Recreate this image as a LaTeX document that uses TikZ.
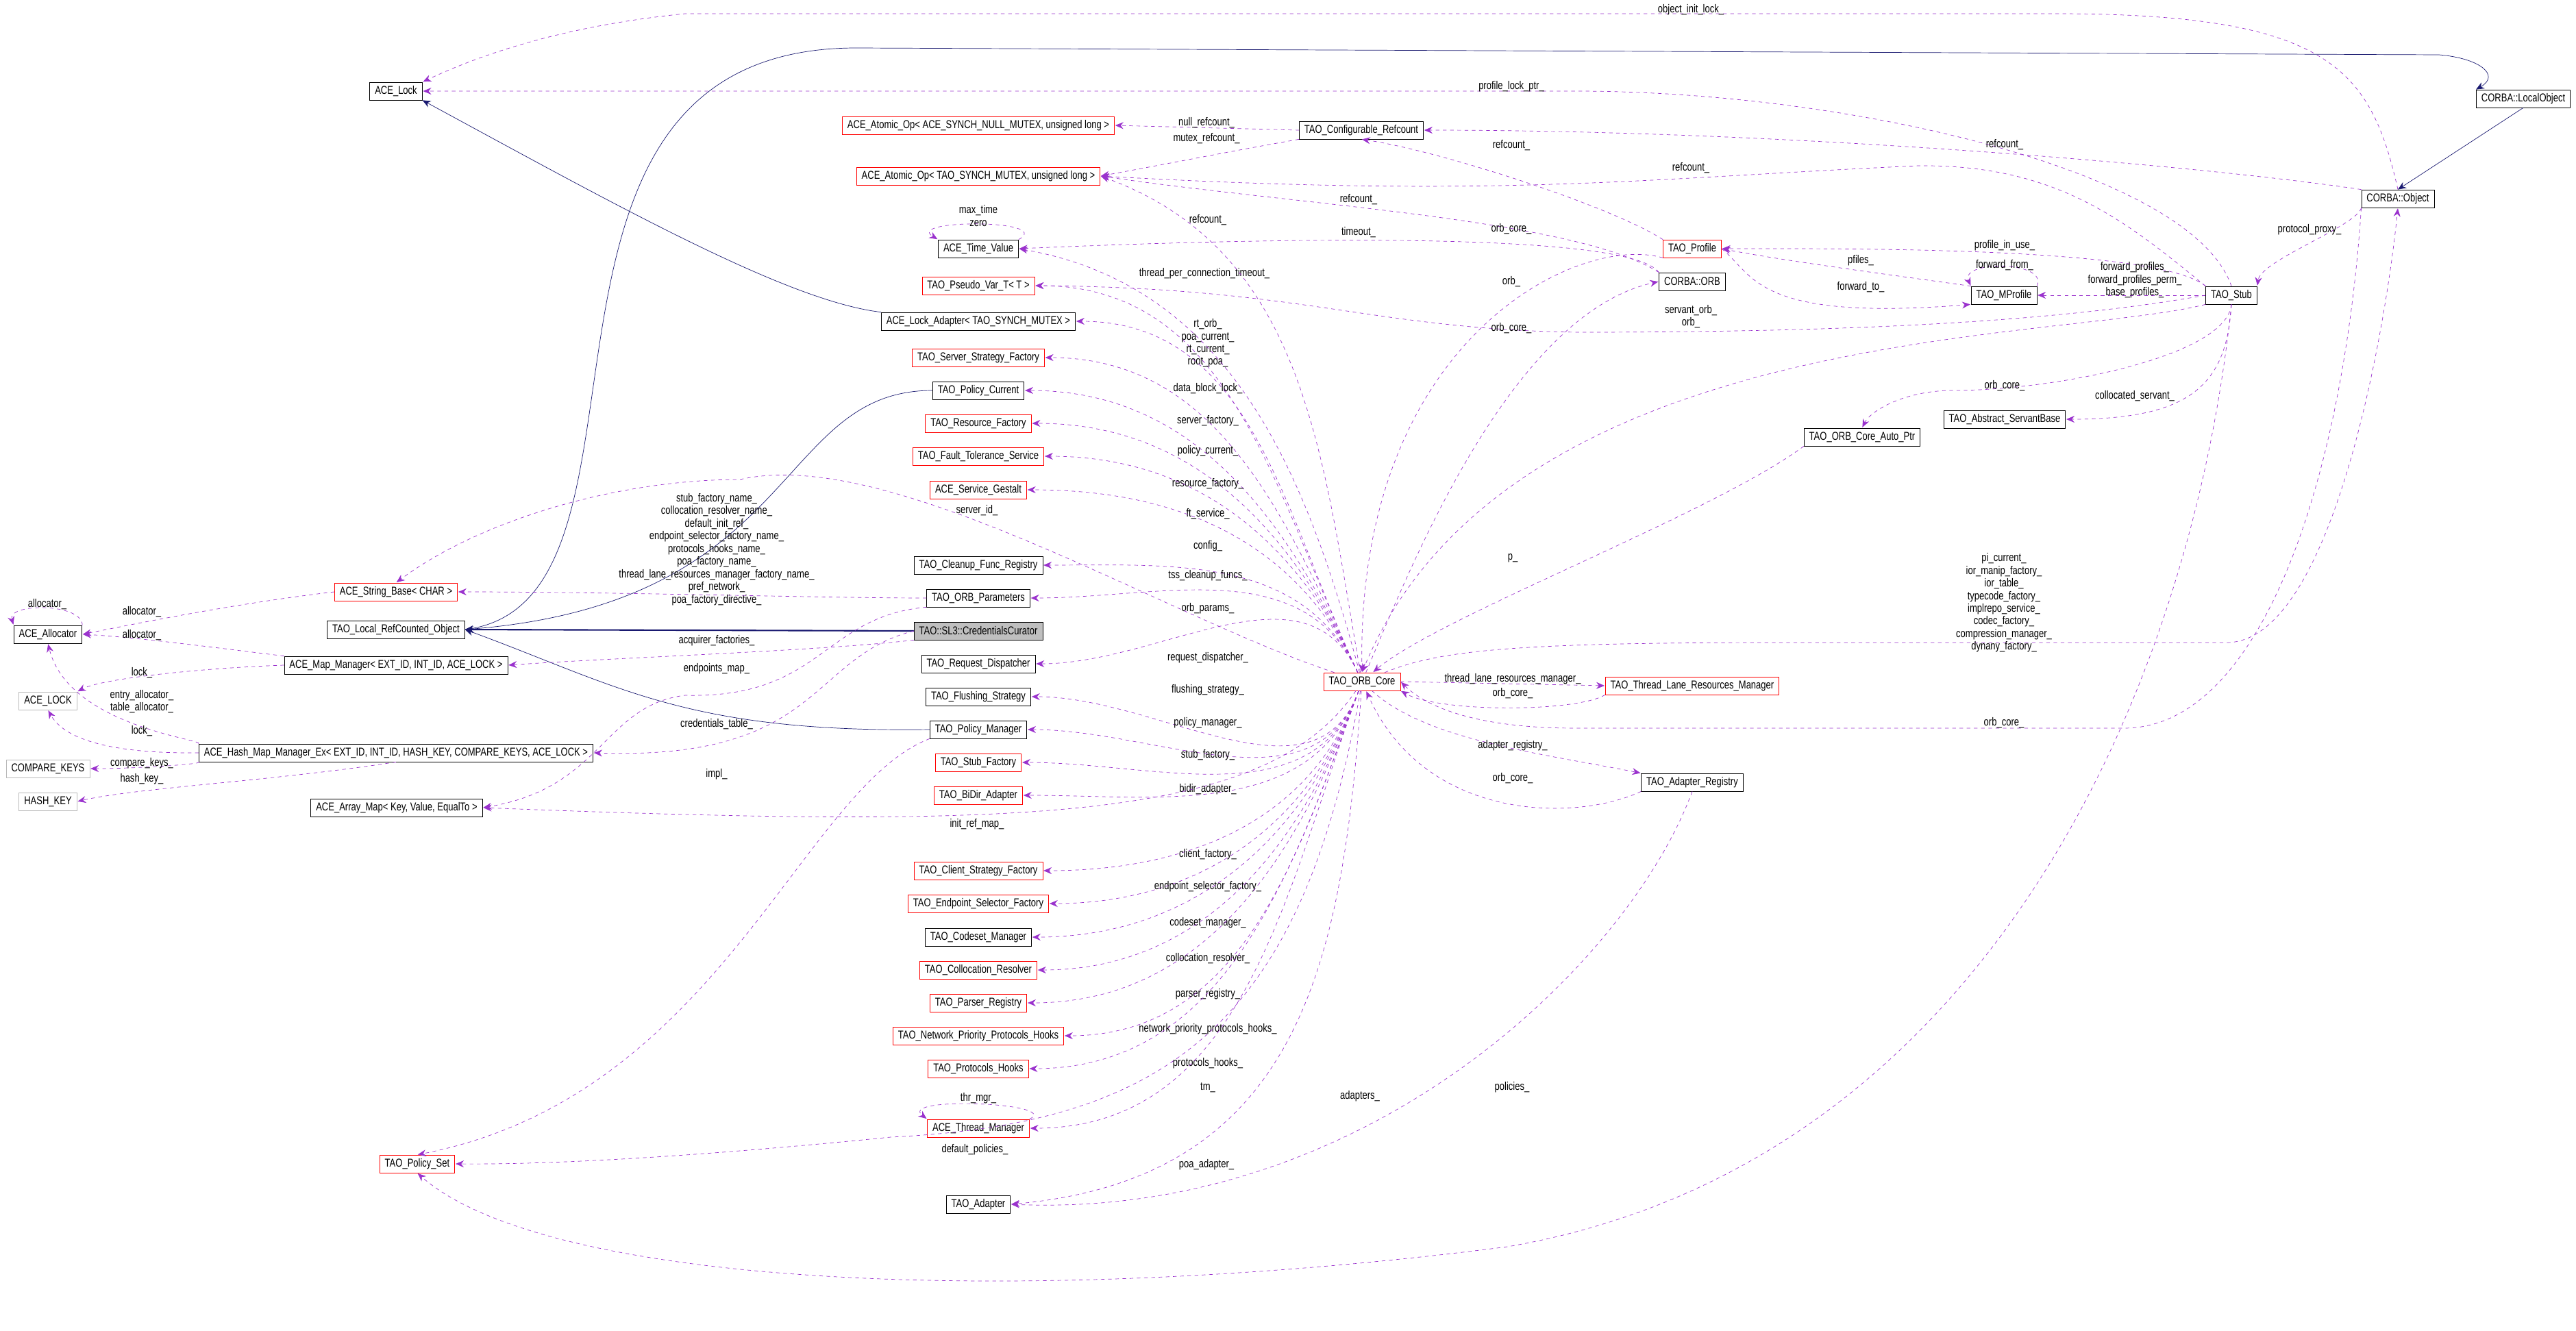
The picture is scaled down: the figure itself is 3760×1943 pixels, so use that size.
\documentclass[tikz,border=0pt]{standalone}
\usepackage{fontspec}
\setmainfont[FakeStretch=0.78]{Liberation Sans}
\usepackage{tikz}
\usetikzlibrary{arrows.meta, positioning}

\definecolor{usecol}{HTML}{9A32CD}
\definecolor{inhcol}{HTML}{191970}

\begin{document}
\begin{tikzpicture}[
x=0.02cm, y=0.02cm,
font=\fontsize{9.5}{11}\selectfont,
cls/.style={rectangle, draw, fill=white, minimum height=0.52cm, inner xsep=0.15cm, inner ysep=0pt},
ext/.style={cls, draw=red},
undoc/.style={cls, draw=gray!55},
use/.style={draw=usecol, dashed, -{Stealth[length=2.4mm, width=2mm]}, shorten >=0.5pt},
inh/.style={draw=inhcol, -{Stealth[length=2.4mm, width=2mm]}},
lbl/.style={align=center, inner sep=1pt, font=\fontsize{9.5}{10.5}\selectfont}
]
\useasboundingbox (0,0) rectangle (3760,-1943);

% middle column
\node[cls] (acelock) at (578,-133) {ACE\_Lock};
\node[ext] (atomnull) at (1428,-183) {ACE\_Atomic\_Op< ACE\_SYNCH\_NULL\_MUTEX, unsigned long >};
\node[ext] (atomtao) at (1428,-257) {ACE\_Atomic\_Op< TAO\_SYNCH\_MUTEX, unsigned long >};
\node[cls] (timeval) at (1428,-363) {ACE\_Time\_Value};
\node[ext] (pseudo) at (1428,-417) {TAO\_Pseudo\_Var\_T< T >};
\node[cls] (lockadp) at (1428,-469) {ACE\_Lock\_Adapter< TAO\_SYNCH\_MUTEX >};
\node[ext] (srvstrat) at (1428,-522) {TAO\_Server\_Strategy\_Factory};
\node[cls] (polcur) at (1428,-570) {TAO\_Policy\_Current};
\node[ext] (resfac) at (1428,-618) {TAO\_Resource\_Factory};
\node[ext] (ftserv) at (1428,-666) {TAO\_Fault\_Tolerance\_Service};
\node[ext] (gestalt) at (1428,-715) {ACE\_Service\_Gestalt};
\node[cls] (cleanup) at (1428,-825) {TAO\_Cleanup\_Func\_Registry};
\node[cls] (orbparams) at (1428,-873) {TAO\_ORB\_Parameters};
\node[cls, fill=gray!50] (curator) at (1428,-921) {TAO::SL3::CredentialsCurator};
\node[cls] (reqdisp) at (1428,-969) {TAO\_Request\_Dispatcher};
\node[cls] (flushing) at (1428,-1017) {TAO\_Flushing\_Strategy};
\node[cls] (polmgr) at (1428,-1065) {TAO\_Policy\_Manager};
\node[ext] (stubfac) at (1428,-1113) {TAO\_Stub\_Factory};
\node[ext] (bidir) at (1428,-1161) {TAO\_BiDir\_Adapter};
\node[ext] (clistrat) at (1428,-1271) {TAO\_Client\_Strategy\_Factory};
\node[ext] (endsel) at (1428,-1319) {TAO\_Endpoint\_Selector\_Factory};
\node[cls] (codeset) at (1428,-1368) {TAO\_Codeset\_Manager};
\node[ext] (colloc) at (1428,-1416) {TAO\_Collocation\_Resolver};
\node[ext] (parser) at (1428,-1464) {TAO\_Parser\_Registry};
\node[ext] (netprio) at (1428,-1512) {TAO\_Network\_Priority\_Protocols\_Hooks};
\node[ext] (prothooks) at (1428,-1560) {TAO\_Protocols\_Hooks};
\node[ext] (thrmgr) at (1428,-1647) {ACE\_Thread\_Manager};
\node[cls] (adapter) at (1428,-1758) {TAO\_Adapter};

% left side
\node[ext] (strbase) at (578,-864) {ACE\_String\_Base< CHAR >};
\node[cls] (refcounted) at (578,-919) {TAO\_Local\_RefCounted\_Object};
\node[cls] (alloc) at (70,-926) {ACE\_Allocator};
\node[cls] (mapmgr) at (578,-971) {ACE\_Map\_Manager< EXT\_ID, INT\_ID, ACE\_LOCK >};
\node[undoc] (acelockt) at (70,-1023) {ACE\_LOCK};
\node[cls] (hashmap) at (578,-1099) {ACE\_Hash\_Map\_Manager\_Ex< EXT\_ID, INT\_ID, HASH\_KEY, COMPARE\_KEYS, ACE\_LOCK >};
\node[undoc] (cmpkeys) at (70,-1122) {COMPARE\_KEYS};
\node[undoc] (hashkey) at (70,-1170) {HASH\_KEY};
\node[cls] (arraymap) at (579,-1179) {ACE\_Array\_Map< Key, Value, EqualTo >};
\node[ext] (polset) at (609,-1699) {TAO\_Policy\_Set};

% right side
\node[cls] (cfgref) at (1987,-190) {TAO\_Configurable\_Refcount};
\node[cls] (localobj) at (3683,-144) {CORBA::LocalObject};
\node[cls] (object) at (3500,-290) {CORBA::Object};
\node[ext] (profile) at (2470,-363) {TAO\_Profile};
\node[cls] (orb) at (2470,-411) {CORBA::ORB};
\node[cls] (mprofile) at (2925,-431) {TAO\_MProfile};
\node[cls] (stub) at (3257,-431) {TAO\_Stub};
\node[cls] (servbase) at (2926,-612) {TAO\_Abstract\_ServantBase};
\node[cls] (autoptr) at (2718,-638) {TAO\_ORB\_Core\_Auto\_Ptr};
\node[ext] (core) at (1988,-995) {TAO\_ORB\_Core};
\node[ext] (tlrm) at (2470,-1001) {TAO\_Thread\_Lane\_Resources\_Manager};
\node[cls] (adreg) at (2470,-1142) {TAO\_Adapter\_Registry};

% inheritance
\draw[inh] (lockadp.north west) .. controls (1150,-440) and (900,-300) .. (acelock.south east);
\draw[inh] (localobj.south) -- (object.north);
\draw[inh] (refcounted.east) .. controls (1000,-880) and (700,-70) .. (1250,-70) -- (3560,-80) .. controls (3620,-85) and (3650,-110) .. (localobj.north west);
\draw[inh, very thick] (curator.west) -- (refcounted.east);
\draw[inh] (polcur.west) .. controls (1130,-570) and (1170,-880) .. (refcounted.east);
\draw[inh] (polmgr.west) .. controls (1000,-1070) and (900,-1000) .. (refcounted.east);

% ORB core members
\foreach \t/\lab/\ly in {pseudo/{rt\_orb\_\\poa\_current\_\\rt\_current\_\\root\_poa\_}/501, lockadp/data\_block\_lock\_/567, srvstrat/server\_factory\_/614, polcur/policy\_current\_/658, resfac/resource\_factory\_/706, ftserv/ft\_service\_/750, gestalt/config\_/797, cleanup/tss\_cleanup\_funcs\_/840, orbparams/orb\_params\_/888, reqdisp/request\_dispatcher\_/960}
{
\draw[use] (core) to[out=115, in=0] (\t.east);
\node[lbl] (l\t) at (1763,-\ly) {\lab};
}
\foreach \t/\lab/\ly in {flushing/flushing\_strategy\_/1007, polmgr/policy\_manager\_/1055, stubfac/stub\_factory\_/1102, bidir/bidir\_adapter\_/1152, clistrat/client\_factory\_/1247, endsel/endpoint\_selector\_factory\_/1294, codeset/codeset\_manager\_/1347, colloc/collocation\_resolver\_/1399, parser/parser\_registry\_/1451, netprio/network\_priority\_protocols\_hooks\_/1502, prothooks/protocols\_hooks\_/1552, thrmgr/tm\_/1588}
{
\draw[use] (core) to[out=250, in=0] (\t.east);
\node[lbl] (l\t) at (1763,-\ly) {\lab};
}
\draw[use] (core) to[out=105, in=-10] (timeval.east);
\node[lbl] (ltpc) at (1758,-399) {thread\_per\_connection\_timeout\_};
\draw[use] (core) to[out=100, in=-20] (atomtao.east);
\node[lbl] (lrc1) at (1763,-321) {refcount\_};
\draw[use] (core) .. controls (1700,-900) and (1300,-650) .. (1080,-700) .. controls (900,-700) and (700,-760) .. (strbase.north);
\node[lbl] (lsid) at (1426,-745) {server\_id\_};
\draw[use] (core) .. controls (1850,-1200) and (1500,-1210) .. (arraymap.east);
\node[lbl] (lirm) at (1426,-1203) {init\_ref\_map\_};
\draw[use] (core) .. controls (1900,-1500) and (1700,-1640) .. (1300,-1660) .. controls (1000,-1690) and (800,-1700) .. (polset.east);
\node[lbl] (ldp) at (1423,-1678) {default\_policies\_};
\draw[use] (core) .. controls (1960,-1400) and (1900,-1720) .. (adapter.east);
\node[lbl] (lpoa) at (1761,-1700) {poa\_adapter\_};
\draw[use] (core) .. controls (2050,-850) and (2200,-460) .. (orb.west);
\node[lbl] (lorb) at (2206,-411) {orb\_};
\draw[use] (core.east) -- (tlrm.west);
\node[lbl] (ltlrm) at (2208,-991) {thread\_lane\_resources\_manager\_};
\draw[use] (tlrm.south west) .. controls (2300,-1040) and (2100,-1040) .. (core.south east);
\node[lbl] (lcore1) at (2208,-1012) {orb\_core\_};
\draw[use] (core) .. controls (2080,-1080) and (2250,-1100) .. (adreg.north west);
\node[lbl] (lar) at (2208,-1088) {adapter\_registry\_};
\draw[use] (adreg.south west) .. controls (2300,-1200) and (2080,-1200) .. (core);
\node[lbl] (lcore2) at (2208,-1136) {orb\_core\_};
\draw[use] (adreg.south) .. controls (2380,-1400) and (2000,-1780) .. (adapter.east);
\node[lbl] (lad) at (1985,-1600) {adapters\_};
\draw[use] (core) .. controls (2100,-950) and (2200,-938) .. (2600,-938) -- (3250,-938) .. controls (3400,-938) and (3480,-500) .. (object.south);
\node[lbl] (lpic) at (2925,-880) {pi\_current\_\\ior\_manip\_factory\_\\ior\_table\_\\typecode\_factory\_\\implrepo\_service\_\\codec\_factory\_\\compression\_manager\_\\dynany\_factory\_};
\draw[use] (object.south west) .. controls (3420,-700) and (3300,-1063) .. (3100,-1063) -- (2300,-1063) .. controls (2150,-1063) and (2080,-1030) .. (core.east);
\node[lbl] (lcore3) at (2925,-1055) {orb\_core\_};
\draw[use] (autoptr.south west) .. controls (2500,-750) and (2100,-900) .. (core);
\node[lbl] (lp) at (2208,-815) {p\_};

% stub, profile, object members
\draw[use] (object.north) .. controls (3460,-100) and (3400,-20) .. (3000,-20) -- (1000,-20) .. controls (800,-40) and (680,-90) .. (acelock.north east);
\node[lbl] (loil) at (2468,-14) {object\_init\_lock\_};
\draw[use] (stub.north) .. controls (3200,-250) and (2700,-133) .. (2300,-133) -- (acelock.east);
\node[lbl] (lplp) at (2206,-126) {profile\_lock\_ptr\_};
\draw[use] (cfgref.west) -- (atomnull.east);
\node[lbl] (lnr) at (1761,-179) {null\_refcount\_};
\draw[use] (cfgref.south west) .. controls (1800,-220) and (1700,-240) .. (atomtao.east);
\node[lbl] (lmr) at (1761,-202) {mutex\_refcount\_};
\draw[use] (profile.north west) .. controls (2350,-300) and (2100,-220) .. (cfgref.south);
\node[lbl] (lrc2) at (2206,-212) {refcount\_};
\draw[use] (object.north west) .. controls (3200,-240) and (2600,-190) .. (cfgref.east);
\node[lbl] (lrc3) at (2926,-211) {refcount\_};
\draw[use] (stub.north west) .. controls (3100,-320) and (3000,-240) .. (2800,-242) .. controls (2400,-260) and (2200,-290) .. (atomtao.east);
\node[lbl] (lrc4) at (2468,-245) {refcount\_};
\draw[use] (orb.north west) .. controls (2300,-320) and (1900,-300) .. (atomtao.east);
\node[lbl] (lrc5) at (1983,-291) {refcount\_};
\draw[use] (orb.north west) .. controls (2380,-340) and (1900,-345) .. (timeval.east);
\node[lbl] (lto) at (1983,-339) {timeout\_};
\draw[use] (profile.south west) .. controls (2300,-340) and (1980,-500) .. (core.north);
\node[lbl] (lcore4) at (2206,-334) {orb\_core\_};
\draw[use] (stub.west) .. controls (3000,-470) and (2700,-485) .. (2300,-485) .. controls (2000,-480) and (1900,-420) .. (pseudo.east);
\node[lbl] (lsorb) at (2468,-462) {servant\_orb\_\\orb\_};
\draw[use] (stub.south west) .. controls (3000,-500) and (2200,-470) .. (core.north);
\node[lbl] (lcore5) at (2206,-479) {orb\_core\_};
\draw[use] (stub.north west) .. controls (3150,-360) and (2700,-363) .. (profile.east);
\node[lbl] (lpiu) at (2926,-358) {profile\_in\_use\_};
\draw[use] (mprofile.north west) .. controls (2750,-400) and (2600,-380) .. (profile.east);
\node[lbl] (lpf) at (2716,-380) {pfiles\_};
\draw[use] (profile.east) .. controls (2560,-400) and (2560,-470) .. (mprofile.south west);
\node[lbl] (lft) at (2716,-419) {forward\_to\_};
\draw[use] (mprofile.north east) .. controls (2990,-380) and (2860,-380) .. (mprofile.north west);
\node[lbl] (lff) at (2926,-387) {forward\_from\_};
\draw[use] (stub.west) -- (mprofile.east);
\node[lbl] (lfp) at (3116,-409) {forward\_profiles\_\\forward\_profiles\_perm\_\\base\_profiles\_};
\draw[use] (object.south west) .. controls (3440,-330) and (3300,-380) .. (stub.north east);
\node[lbl] (lpp) at (3371,-335) {protocol\_proxy\_};
\draw[use] (stub.south) .. controls (3250,-520) and (3000,-570) .. (2850,-570) .. controls (2780,-570) and (2730,-600) .. (autoptr.north);
\node[lbl] (lcore6) at (2926,-563) {orb\_core\_};
\draw[use] (stub.south) .. controls (3250,-560) and (3200,-612) .. (servbase.east);
\node[lbl] (lcs) at (3116,-578) {collocated\_servant\_};
\draw[use] (stub.south) .. controls (3200,-1000) and (2900,-1700) .. (2200,-1820) .. controls (1500,-1910) and (800,-1880) .. (polset.south);
\node[lbl] (lpol) at (2207,-1587) {policies\_};
\draw[use] (timeval.north east) .. controls (1540,-320) and (1320,-320) .. (timeval.north west);
\node[lbl] (lmt) at (1428,-315) {max\_time\\zero};
\draw[use] (thrmgr.north east) .. controls (1550,-1610) and (1310,-1600) .. (thrmgr.north west);
\node[lbl] (ltm) at (1428,-1603) {thr\_mgr\_};

% parameters and curator members
\draw[use] (orbparams.west) .. controls (1200,-873) and (900,-864) .. (strbase.east);
\node[lbl] (lnames) at (1046,-802) {stub\_factory\_name\_\\collocation\_resolver\_name\_\\default\_init\_ref\_\\endpoint\_selector\_factory\_name\_\\protocols\_hooks\_name\_\\poa\_factory\_name\_\\thread\_lane\_resources\_manager\_factory\_name\_\\pref\_network\_\\poa\_factory\_directive\_};
\draw[use] (curator.south west) .. controls (1200,-950) and (900,-960) .. (mapmgr.east);
\node[lbl] (laf) at (1046,-935) {acquirer\_factories\_};
\draw[use] (orbparams.south west) .. controls (1200,-900) and (1200,-1020) .. (1000,-1015) .. controls (880,-1030) and (880,-1150) .. (arraymap.east);
\node[lbl] (lem) at (1046,-976) {endpoints\_map\_};
\draw[use] (curator.west) .. controls (1180,-960) and (1200,-1110) .. (hashmap.east);
\node[lbl] (lct) at (1046,-1057) {credentials\_table\_};
\draw[use] (polmgr.south west) .. controls (1170,-1150) and (1050,-1600) .. (polset.north);
\node[lbl] (limpl) at (1046,-1130) {impl\_};

% allocator side
\draw[use] (alloc.north east) .. controls (120,-880) and (10,-880) .. (alloc.north west);
\node[lbl] (lal1) at (69,-882) {allocator\_};
\draw[use] (strbase.west) .. controls (350,-880) and (200,-910) .. (alloc.east);
\node[lbl] (lal2) at (207,-893) {allocator\_};
\draw[use] (mapmgr.north west) .. controls (350,-950) and (200,-930) .. (alloc.east);
\node[lbl] (lal3) at (207,-927) {allocator\_};
\draw[use] (mapmgr.west) .. controls (300,-975) and (150,-990) .. (acelockt.north east);
\node[lbl] (llk1) at (207,-982) {lock\_};
\draw[use] (hashmap.north west) .. controls (300,-1080) and (100,-1060) .. (alloc.south);
\node[lbl] (lea) at (207,-1024) {entry\_allocator\_\\table\_allocator\_};
\draw[use] (hashmap.west) .. controls (200,-1100) and (100,-1090) .. (acelockt.south);
\node[lbl] (llk2) at (207,-1067) {lock\_};
\draw[use] (hashmap.south west) .. controls (300,-1115) and (200,-1122) .. (cmpkeys.east);
\node[lbl] (lck) at (207,-1114) {compare\_keys\_};
\draw[use] (hashmap.south) .. controls (400,-1140) and (200,-1150) .. (hashkey.east);
\node[lbl] (lhk) at (207,-1137) {hash\_key\_};

\end{tikzpicture}
\end{document}
